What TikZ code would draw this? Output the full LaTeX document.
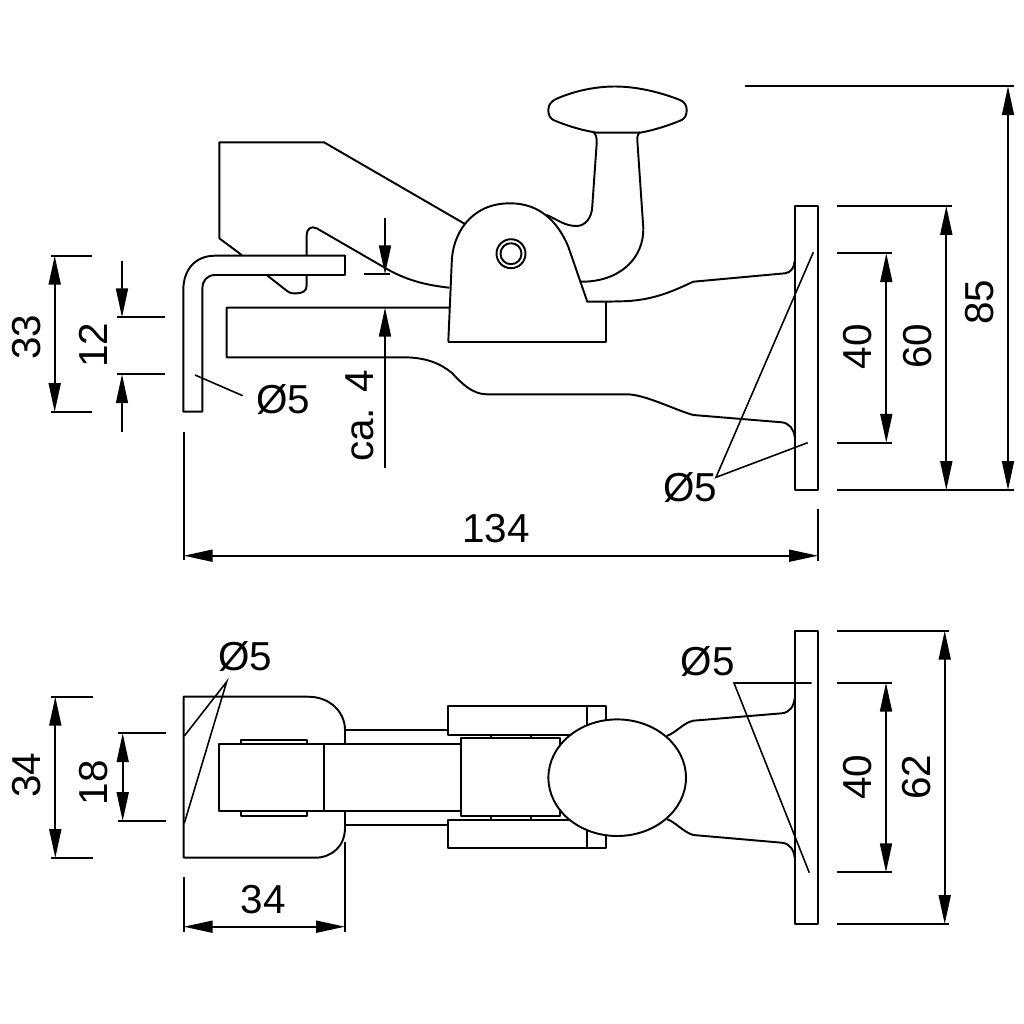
\documentclass[tikz,border=0pt]{standalone}
\usepackage{fontspec}
\setmainfont{Liberation Sans}
\usetikzlibrary{arrows.meta}
\tikzset{
    part/.style={line width=0.55pt, line join=round},
    leader/.style={line width=0.45pt},
    ext/.style={line width=0.5pt},
    dim/.style={line width=0.5pt, {Triangle[length=8.2pt,width=3.4pt]}-{Triangle[length=8.2pt,width=3.4pt]}},
    tipin/.style={line width=0.5pt, -{Triangle[length=8.2pt,width=3.4pt]}},
    lbl/.style={inner sep=0pt, font=\fontsize{11.5}{13}\selectfont},
    vlbl/.style={lbl, rotate=90}
}
\begin{document}
\begin{tikzpicture}[x=0.01cm,y=-0.01cm]
    \useasboundingbox (0,0) rectangle (1024,1024);

    % side view
    \draw[part] (449.3,287.7) .. controls (425,285) and (405,280) .. (383,266.7) -- (316.7,228.3) .. controls (311,225.5) and (306.7,229) .. (306.7,235) -- (306.7,255);
    \draw[part] (241.7,255) -- (219.3,238.3) -- (219.3,142.3) -- (324,142.3) -- (465,224);
    \draw[part] (266.7,275) -- (286.7,290.7) .. controls (290,293.5) and (293,293.5) .. (297,293.3) .. controls (303,293) and (306.7,291) .. (306.7,285) -- (306.7,275);
    \draw[part] (183.3,411.7) -- (183.3,290) .. controls (183.3,270) and (195,255.7) .. (215,255.7) -- (345,255.7) -- (345,275) -- (215,275) .. controls (207,275) and (202.3,281) .. (202.3,288.3) -- (202.3,411.7) -- cycle;
    \draw[part] (449.3,307.7) -- (226.7,307.7) -- (226.7,357.3) -- (403.3,357.3) .. controls (425,357.3) and (440,363) .. (452,373) .. controls (462,384) and (473,394.3) .. (486.7,394.3) -- (626.7,394.3) .. controls (645,394.3) and (675,410) .. (693.3,415) -- (781.7,422.3) .. controls (789,423) and (794,429) .. (794.7,437);
    % bracket and pin
    \draw[part] (448.3,341.7) -- (605.7,341.7) -- (605.7,301.7);
    \draw[part] (448.3,341.7) -- (451.7,263.3) .. controls (452,235) and (470,203.3) .. (510,203.3) .. controls (540,203.3) and (558,222) .. (568.3,246.7) -- (587.3,301.7) -- (605.7,301.7);
    \draw[part] (511,253.7) circle[radius=14.5];
    \draw[part] (511,253.7) circle[radius=10.5];
    % handle
    \draw[part] (548.3,110) .. controls (548.3,104) and (552,100.5) .. (558.3,98) .. controls (575,91) and (595,86.5) .. (615,86.5) .. controls (640,86.5) and (665,94) .. (680,100) .. controls (685,102) and (686.7,106) .. (686.7,110) .. controls (686.7,115) and (685,118) .. (681.7,120) .. controls (670,125) and (655,130) .. (640,132.7) -- (597,132.7) .. controls (580,130) and (565,125) .. (553.3,120) .. controls (550,118) and (548.3,115) .. cycle;
    \draw[part] (593,131.7) .. controls (596,134) and (597,138) .. (596.7,143) -- (592.3,206) .. controls (592,218) and (585,226) .. (576.7,226) .. controls (565,226) and (558,220) .. (546.7,215);
    \draw[part] (640,132) .. controls (637,135) and (637,138) .. (637.5,143) -- (643.3,228) .. controls (644,258) and (620,282) .. (581,281.7);
    % foot, side view
    \draw[part] (605.7,301.7) -- (625,301.2) .. controls (655,300) and (675,290) .. (693.3,281.7) -- (785,273.3) .. controls (791,272.5) and (794,268) .. (794.7,261);
    \draw[part] (794.7,206) rectangle (818,490);

    % top view
    \draw[part] (345,743.7) -- (345,730) .. controls (345,712) and (330,696.7) .. (308,696.7) -- (183.7,696.7) -- (183.7,857.7) -- (315,857.7) .. controls (332,857.7) and (345,846) .. (345,828) -- (345,810.7);
    \draw[part] (219.3,744) rectangle (461,810.7);
    \draw[part] (323.7,744) -- (323.7,810.7);
    \draw[part] (240.7,744) -- (240.7,740) -- (307.3,740) -- (307.3,744);
    \draw[part] (240.7,810.7) -- (240.7,815.7) -- (307.3,815.7) -- (307.3,810.7);
    \draw[part] (345,730.3) -- (447.7,730.3);
    \draw[part] (345,825) -- (447.7,825);
    \draw[part] (605.7,722) -- (605.7,706) -- (447.7,706) -- (447.7,735.3) -- (570,735.3);
    \draw[part] (605.7,833) -- (605.7,848.3) -- (447.7,848.3) -- (447.7,820) -- (570,820);
    \draw[part] (587.3,706) -- (587.3,730);
    \draw[part] (587.3,825) -- (587.3,848.3);
    \draw[part] (461,738.3) rectangle (560,816);
    \draw[part] (491,735.3) -- (491,738.3) (530.7,735.3) -- (530.7,738.3);
    \draw[part] (491,816) -- (491,820) (530.7,816) -- (530.7,820);
    \draw[part, fill=white] (617.2,777.7) ellipse[x radius=68.8, y radius=58.3];
    \draw[part] (666.7,736) .. controls (677,732) and (683,723) .. (693.3,720.7) -- (781.7,713.3) .. controls (790,712.5) and (794,706) .. (794.7,698);
    \draw[part] (666.7,819) .. controls (677,823) and (683,832) .. (693.3,835) -- (781.7,842.7) .. controls (790,843.5) and (794,850) .. (794.7,858);
    \draw[part] (794.7,630.7) rectangle (818.3,924);

    % leaders
    \draw[leader] (195,375) -- (242.7,395.7);
    \draw[leader] (813.3,252.3) -- (716,477.3) -- (807.7,442.7);
    \draw[leader] (811.7,683) -- (734,683) -- (809.3,872.7);
    \draw[leader] (184.3,736) -- (226.7,681.7) -- (184.3,823.3);

    % extension lines
    \draw[ext] (50.7,255.7) -- (92.3,255.7);
    \draw[ext] (50.7,412) -- (92.3,412);
    \draw[ext] (117,317.3) -- (165,317.3);
    \draw[ext] (117,374.3) -- (165,374.3);
    \draw[ext] (364.3,274.3) -- (390,274.3);
    \draw[ext] (745,86.3) -- (1014,86.3);
    \draw[ext] (837.3,490) -- (1014,490);
    \draw[ext] (837.3,206) -- (951.7,206);
    \draw[ext] (837.3,253.3) -- (891.7,253.3);
    \draw[ext] (837.3,442.7) -- (891.7,442.7);
    \draw[ext] (183.7,431.7) -- (183.7,560);
    \draw[ext] (818,509) -- (818,561);
    \draw[ext] (50.7,696.7) -- (93.3,696.7);
    \draw[ext] (50.7,858) -- (93.3,858);
    \draw[ext] (118.3,733.3) -- (165.7,733.3);
    \draw[ext] (118.3,821) -- (165.7,821);
    \draw[ext] (183.7,877.3) -- (183.7,931.7);
    \draw[ext] (345,841.7) -- (345,931.7);
    \draw[ext] (837.3,630.7) -- (949.3,630.7);
    \draw[ext] (837.3,924) -- (949.3,924);
    \draw[ext] (837.3,682.7) -- (891.7,682.7);
    \draw[ext] (837.3,872.3) -- (891.7,872.3);

    % dimension lines
    \draw[dim] (54.7,255.7) -- (54.7,412);
    \draw[tipin] (122,260.7) -- (122,317.3);
    \draw[tipin] (122,431.7) -- (122,374.3);
    \draw[tipin] (385,218.3) -- (385,274.3);
    \draw[tipin] (385,467.7) -- (385,307.7);
    \draw[dim] (1008,86.3) -- (1008,490);
    \draw[dim] (946.3,206) -- (946.3,490);
    \draw[dim] (886.3,253.3) -- (886.3,442.7);
    \draw[dim] (183.7,555.7) -- (818,555.7);
    \draw[dim] (55.3,696.7) -- (55.3,858);
    \draw[dim] (122.7,733.3) -- (122.7,821);
    \draw[dim] (183.7,926.7) -- (345,926.7);
    \draw[dim] (944.7,630.7) -- (944.7,924);
    \draw[dim] (886,682.7) -- (886,872.3);

    % labels
    \node[vlbl] (h33) at (26.7,337) {33};
    \node[vlbl] (h12) at (93.7,345) {12};
    \node[lbl] (dleft) at (283,400) {Ø5};
    \node[vlbl] (gap) at (360,416) {ca. 4};
    \node[lbl] (dfoot) at (690,488) {Ø5};
    \node[lbl] (len) at (496,528.3) {134};
    \node[vlbl] (h40) at (857.7,346.7) {40};
    \node[vlbl] (h60) at (917.7,346) {60};
    \node[vlbl] (h85) at (979.3,302.3) {85};
    \node[lbl] (dtop) at (245,656.7) {Ø5};
    \node[lbl] (dplate) at (707.7,661.7) {Ø5};
    \node[vlbl] (w34) at (26.7,775) {34};
    \node[vlbl] (w18) at (93.7,782.7) {18};
    \node[lbl] (d34) at (263.3,900) {34};
    \node[vlbl] (w40) at (857.3,777.3) {40};
    \node[vlbl] (w62) at (916.7,777) {62};
\end{tikzpicture}
\end{document}
